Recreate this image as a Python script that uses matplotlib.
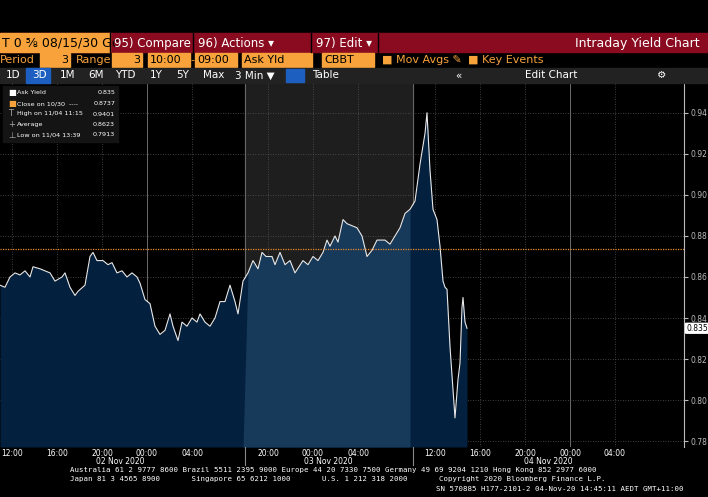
import numpy as np
import matplotlib
matplotlib.use("Agg")
import matplotlib.pyplot as plt
from matplotlib.patches import Rectangle

# bar position (chart x units, 45 per 4h) and ask yield
pos = [0, 5, 10, 15, 20, 25, 30, 33, 40, 50, 55, 62, 65, 70, 75, 78, 85, 90, 93, 97, 103, 108,
       112, 117, 122, 127, 132, 137, 140, 145, 150, 155, 160, 165, 170, 173, 178, 182, 187, 192,
       197, 200, 205, 210, 215, 220, 225, 230, 235, 238, 243, 248, 253, 258, 262, 266, 272, 275,
       280, 285, 290, 295, 303, 308, 313, 318, 323, 327, 330, 335, 338, 343, 347, 352, 357, 362,
       367, 372, 377, 385, 390, 395, 400, 405, 410, 415, 420, 425, 427, 430, 433, 437, 440, 443,
       445, 447, 450, 453, 455, 458, 460, 462, 463, 465, 467]
ask_yld = [0.856, 0.855, 0.860, 0.862, 0.861, 0.863, 0.860, 0.865, 0.864, 0.862, 0.858, 0.860,
           0.862, 0.855, 0.851, 0.853, 0.856, 0.870, 0.872, 0.868, 0.868, 0.866, 0.867, 0.862,
           0.863, 0.860, 0.862, 0.860, 0.857, 0.849, 0.847, 0.836, 0.832, 0.834, 0.842, 0.836,
           0.829, 0.838, 0.836, 0.840, 0.838, 0.842, 0.838, 0.836, 0.840, 0.848, 0.848, 0.856,
           0.848, 0.842, 0.858, 0.862, 0.868, 0.864, 0.872, 0.870, 0.870, 0.866, 0.872, 0.866,
           0.868, 0.862, 0.868, 0.866, 0.870, 0.868, 0.872, 0.878, 0.875, 0.880, 0.877, 0.888,
           0.886, 0.885, 0.884, 0.880, 0.870, 0.873, 0.878, 0.878, 0.876, 0.880, 0.884, 0.891,
           0.893, 0.897, 0.915, 0.930, 0.9401, 0.912, 0.893, 0.888, 0.875, 0.858, 0.855, 0.854,
           0.826, 0.805, 0.7913, 0.810, 0.818, 0.845, 0.850, 0.838, 0.835]
close_1030 = 0.8737
yticks = [0.78, 0.80, 0.82, 0.84, 0.86, 0.88, 0.90, 0.92, 0.94]
tick_pos = [12, 57, 102, 147, 192, 268, 313, 358, 435, 480, 525, 570, 615]
tick_lab = ["12:00", "16:00", "20:00", "00:00", "04:00", "20:00", "00:00", "04:00",
            "12:00", "16:00", "20:00", "00:00", "04:00"]
dates = [(120, "02 Nov 2020"), (328, "03 Nov 2020"), (548, "04 Nov 2020")]
sess_start, sess_end = 245, 413

ORANGE = "#f7a23b"
W, H = 708, 497
fig = plt.figure(figsize=(W / 100, H / 100), dpi=100, facecolor="black")

# ---- main chart
y_lo, y_hi = 0.7771, 0.9546
ax = fig.add_axes([0, 1 - 447 / H, 684 / W, (447 - 83) / H], facecolor="black")
ax.set_xlim(0, 684); ax.set_ylim(y_lo, y_hi)
ax.axvspan(sess_start, sess_end, color="#1e1e1e", zorder=0)
for yt in yticks:
    ax.axhline(yt, color="#555555", ls=(0, (1, 2)), lw=0.6, zorder=1)
for xt in tick_pos:
    ax.axvline(xt, color="#555555", ls=(0, (1, 2)), lw=0.6, zorder=1)
for xs in [147, 570]:
    ax.axvline(xs, color="#777777", lw=0.6, zorder=1)
for xs in [sess_start, sess_end]:
    ax.axvline(xs, color="#666666", lw=0.8, zorder=1)

p = np.array(pos, float); v = np.array(ask_yld)
ax.fill_between(p, y_lo, v, color="#03203f", zorder=2, lw=0)
m = (p >= sess_start) & (p <= sess_end)
ax.fill_between(p, y_lo, v, where=m, color="#173a5a", zorder=2, lw=0, interpolate=True)
ax.plot(p, v, color="#e8e8e8", lw=0.8, zorder=3)
ax.axhline(close_1030, color="#e8892a", ls=(0, (1, 1)), lw=0.9, zorder=4)

ax.yaxis.tick_right()
ax.set_yticks(yticks, [f"{t:.2f}" for t in yticks])
ax.tick_params(axis="y", colors="#bbbbbb", labelsize=5.5, length=3, pad=2)
ax.set_xticks([])
for s in ["top", "left", "bottom"]:
    ax.spines[s].set_visible(False)
ax.spines["right"].set_color("#bbbbbb")
ax.text(1.003, (ask_yld[-1] - y_lo) / (y_hi - y_lo), f"{ask_yld[-1]:.3f}", transform=ax.transAxes,
        fontsize=5.5, va="center", color="black",
        bbox=dict(boxstyle="round,pad=0.15", fc="white", ec="none"))

# ---- header / footer / legend drawn in pixel coords on top
bg = fig.add_axes([0, 0, 1, 1])
bg.set_zorder(10)
bg.set_xlim(0, W); bg.set_ylim(H, 0); bg.axis("off")
bg.add_patch(Rectangle((0, 33), W, 19, color="#8a0b20"))
bg.add_patch(Rectangle((0, 33), 110, 19, color=ORANGE))
bg.text(2, 43, "T 0 ⅝ 08/15/30 Gc", color="black", fontsize=9, va="center")
for x0, txt in [(114, "95) Compare"), (198, "96) Actions ▾"), (316, "97) Edit ▾")]:
    bg.text(x0, 43, txt, color="white", fontsize=8.5, va="center")
for xb in [110, 193, 311, 378]:
    bg.plot([xb, xb], [33, 52], color="black", lw=1)
bg.text(700, 43, "Intraday Yield Chart", color="white", fontsize=9, va="center", ha="right")
for x0, w, txt in [(40, 30, "3"), (112, 30, "3"), (148, 42, "10:00"), (195, 42, "09:00"),
                   (242, 70, "Ask Yld"), (322, 52, "CBBT")]:
    bg.add_patch(Rectangle((x0, 53), w, 14, color=ORANGE))
    bg.text(x0 + (w - 2 if len(txt) == 1 else 2), 60, txt, color="black", fontsize=8,
            va="center", ha="right" if len(txt) == 1 else "left")
for x0, txt in [(0, "Period"), (76, "Range"), (190, "-"), (382, "■ Mov Avgs ✎"), (468, "■ Key Events")]:
    bg.text(x0, 60, txt, color=ORANGE, fontsize=8, va="center")
bg.add_patch(Rectangle((0, 68), W, 15, color="#222222"))
bg.add_patch(Rectangle((26, 68), 24, 15, color="#1d5fc0"))
for x0, txt in [(6, "1D"), (32, "3D"), (60, "1M"), (88, "6M"), (115, "YTD"), (150, "1Y"),
                (176, "5Y"), (203, "Max"), (235, "3 Min ▼"), (312, "Table"), (455, "«"),
                (525, "Edit Chart"), (657, "⚙")]:
    bg.text(x0, 75.5, txt, color="white", fontsize=7.5, va="center")
bg.add_patch(Rectangle((286, 69), 18, 13, color="#1d5fc0"))
footer = [(70, 470, "Australia 61 2 9777 8600 Brazil 5511 2395 9000 Europe 44 20 7330 7500 Germany 49 69 9204 1210 Hong Kong 852 2977 6000"),
          (70, 479, "Japan 81 3 4565 8900       Singapore 65 6212 1000       U.S. 1 212 318 2000       Copyright 2020 Bloomberg Finance L.P."),
          (436, 489, "SN 570885 H177-2101-2 04-Nov-20 14:45:11 AEDT GMT+11:00")]
for x0, y0, txt in footer:
    bg.text(x0, y0, txt, color="white", fontsize=5.3, va="center", family="DejaVu Sans Mono")

# legend box
leg = [("■", "white", "Ask Yield", "0.835"), ("■", ORANGE, "Close on 10/30  ----", "0.8737"),
       ("T", "#aaaaaa", "High on 11/04 11:15", "0.9401"), ("+", "#aaaaaa", "Average", "0.8623"),
       ("⊥", "#aaaaaa", "Low on 11/04 13:39", "0.7913")]
bg.add_patch(Rectangle((3, 86), 115, 56, color="#141414"))
for i, (mk, c, lab, val) in enumerate(leg):
    yy = 93 + i * 10.5
    bg.text(8, yy, mk, color=c, fontsize=6, va="center")
    bg.text(17, yy, lab, color="white", fontsize=4.6, va="center")
    bg.text(115, yy, val, color="white", fontsize=4.6, va="center", ha="right")

# x labels
for xt, lab in zip(tick_pos, tick_lab):
    bg.text(xt, 454, lab, color="white", fontsize=5.5, ha="center", va="center")
for xd, lab in dates:
    bg.text(xd, 462, lab, color="white", fontsize=5.5, ha="center", va="center")
for xs in [sess_start, sess_end]:
    bg.plot([xs, xs], [447, 465], color="#888888", lw=0.8)

fig.savefig("out.png", dpi=100, facecolor="black")
